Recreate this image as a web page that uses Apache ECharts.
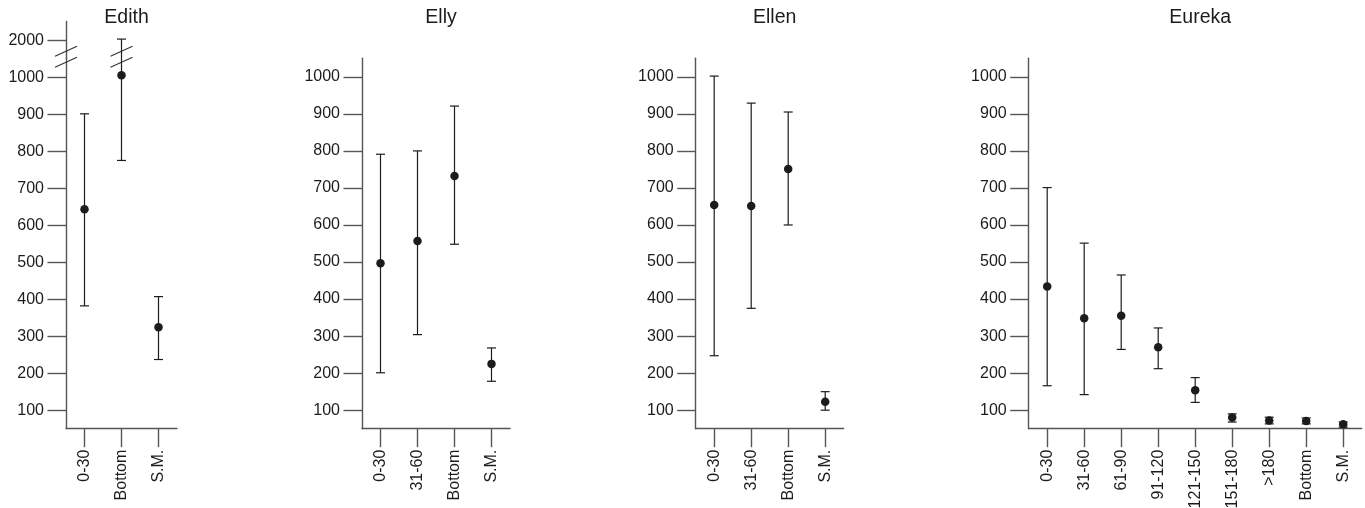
<!DOCTYPE html>
<html>
<head>
<meta charset="utf-8">
<script src="https://cdn.jsdelivr.net/npm/echarts@6.0.0/dist/echarts.min.js"></script>
<style>
html,body{margin:0;padding:0;background:#fff;}
#chart{width:1365px;height:508px;}
</style>
</head>
<body>
<div id="chart"></div>
<script>
// ---- data ----
const edithCats = ['0-30', 'Bottom', 'S.M.'];
const edithMean = [643, 1005, 324];
const edithLow  = [382, 775, 237];
const edithHigh = [901, 2003, 407];

const ellyCats = ['0-30', '31-60', 'Bottom', 'S.M.'];
const ellyMean = [497, 557, 732, 225];
const ellyLow  = [201, 304, 548, 178];
const ellyHigh = [791, 800, 921, 268];

const ellenCats = ['0-30', '31-60', 'Bottom', 'S.M.'];
const ellenMean = [654, 651, 751, 123];
const ellenLow  = [247, 375, 600, 100];
const ellenHigh = [1002, 929, 905, 150];

const eurekaCats = ['0-30', '31-60', '61-90', '91-120', '121-150', '151-180', '>180', 'Bottom', 'S.M.'];
const eurekaMean = [434, 348, 355, 270, 154, 80, 72, 71, 62];
const eurekaLow  = [166, 142, 264, 212, 121, 68, 63, 63, 54];
const eurekaHigh = [701, 551, 465, 322, 188, 90, 81, 79, 68];

const panelTitles = ['Edith', 'Elly', 'Ellen', 'Eureka'];
const tickValues = [100, 200, 300, 400, 500, 600, 700, 800, 900, 1000];
const edithTickValues = [100, 200, 300, 400, 500, 600, 700, 800, 900, 1000, 2000];
const edithBreak = {start: 1050, end: 1950};

// ---- chart ----
const FONT = '"Liberation Sans", Arial, Helvetica, sans-serif';
const AXIS_COLOR = '#555555';
const INK = '#1c1c1c';

const panels = [
  {cats: edithCats, mean: edithMean, low: edithLow, high: edithHigh, left: 66, width: 111, top: 21.7},
  {cats: ellyCats, mean: ellyMean, low: ellyLow, high: ellyHigh, left: 362, width: 148, top: 58.3},
  {cats: ellenCats, mean: ellenMean, low: ellenLow, high: ellenHigh, left: 695.7, width: 148, top: 58.3},
  {cats: eurekaCats, mean: eurekaMean, low: eurekaLow, high: eurekaHigh, left: 1028.7, width: 333, top: 58.3}
];

const grids = [], xAxes = [], yAxes = [], series = [], titles = [];

function errRender(params, api) {
  const x = api.value(0);
  const pLo = api.coord([x, api.value(1)]);
  const pHi = api.coord([x, api.value(2)]);
  const w = 4.5;
  const st = {stroke: INK, lineWidth: 1.2};
  return {type: 'group', children: [
    {type: 'line', shape: {x1: pLo[0], y1: pLo[1], x2: pHi[0], y2: pHi[1]}, style: st},
    {type: 'line', shape: {x1: pHi[0] - w, y1: pHi[1], x2: pHi[0] + w, y2: pHi[1]}, style: st},
    {type: 'line', shape: {x1: pLo[0] - w, y1: pLo[1], x2: pLo[0] + w, y2: pLo[1]}, style: st}
  ]};
}

function breakRender(params, api) {
  const p = api.coord([api.value(0), api.value(1)]);
  const band = api.size([1, 0])[0];
  const cx = p[0] + api.value(2) * band;
  const cy = p[1] - 2;
  const st = {stroke: '#333', lineWidth: 1.1};
  const hx = 11, hy = 5, off = 5.5;
  return {type: 'group', children: [
    {type: 'line', shape: {x1: cx - hx, y1: cy - off + hy, x2: cx + hx, y2: cy - off - hy}, style: st},
    {type: 'line', shape: {x1: cx - hx, y1: cy + off + hy, x2: cx + hx, y2: cy + off - hy}, style: st}
  ]};
}

panels.forEach((p, i) => {
  grids.push({left: p.left, width: p.width, top: p.top, bottom: 79.3, outerBoundsMode: 'none', containLabel: false});
  titles.push({
    text: panelTitles[i], left: p.left + p.width / 2, top: 3, textAlign: 'center',
    textStyle: {fontFamily: FONT, fontSize: 19.5, fontWeight: 'normal', color: INK}
  });
  xAxes.push({
    type: 'category', gridIndex: i, data: p.cats, boundaryGap: true,
    axisLine: {show: true, lineStyle: {color: AXIS_COLOR, width: 1.4}},
    axisTick: {show: true, alignWithLabel: true, length: 18.5, lineStyle: {color: AXIS_COLOR, width: 1.4}},
    axisLabel: {rotate: 90, margin: 21, fontFamily: FONT, fontSize: 16, color: INK, interval: 0},
    splitLine: {show: false}
  });
  const ya = {
    type: 'value', gridIndex: i, min: 50, max: i === 0 ? 2050 : 1050,
    axisLine: {show: true, lineStyle: {color: AXIS_COLOR, width: 1.4}},
    axisTick: {show: true, length: 18.5, lineStyle: {color: AXIS_COLOR, width: 1.4},
               customValues: i === 0 ? edithTickValues : tickValues},
    axisLabel: {margin: 22, fontFamily: FONT, fontSize: 16, color: INK,
                formatter: v => String(v),
                customValues: i === 0 ? edithTickValues : tickValues},
    splitLine: {show: false}
  };
  if (i === 0) {
    ya.breaks = [{start: edithBreak.start, end: edithBreak.end, gap: 0}];
    ya.breakArea = {show: false, expandOnClick: false};
  }
  yAxes.push(ya);
  series.push({
    type: 'custom', xAxisIndex: i, yAxisIndex: i, renderItem: errRender,
    encode: {x: 0, y: [1, 2]}, silent: true, z: 2,
    data: p.cats.map((c, k) => [k, p.low[k], p.high[k]])
  });
  series.push({
    type: 'scatter', xAxisIndex: i, yAxisIndex: i, symbol: 'circle', symbolSize: 8.5,
    itemStyle: {color: INK, opacity: 1}, silent: true, z: 3,
    data: p.cats.map((c, k) => [k, p.mean[k]])
  });
});

// break marks on Edith's y axis and on the 'Bottom' bar
series.push({
  type: 'custom', xAxisIndex: 0, yAxisIndex: 0, renderItem: breakRender, silent: true, z: 4, clip: false,
  encode: {x: 0, y: 1},
  data: [[0, (edithBreak.start + edithBreak.end) / 2, -0.5], [1, (edithBreak.start + edithBreak.end) / 2, 0]]
});

const chart = echarts.init(document.getElementById('chart'), null, {renderer: 'canvas'});
chart.setOption({
  animation: false,
  backgroundColor: '#fff',
  title: titles,
  grid: grids,
  xAxis: xAxes,
  yAxis: yAxes,
  series: series
});
</script>
</body>
</html>
